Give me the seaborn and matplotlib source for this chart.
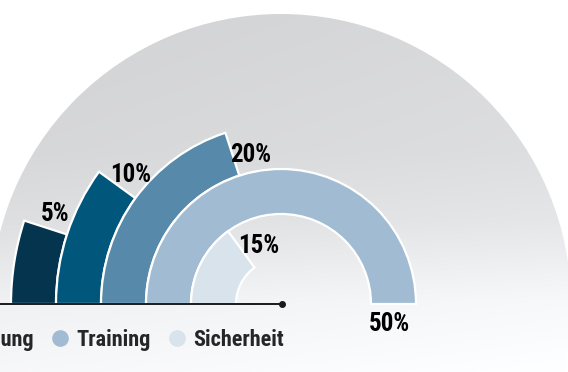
import numpy as np
import matplotlib
matplotlib.use("Agg")
import matplotlib.pyplot as plt
from matplotlib.patches import Circle
from matplotlib.lines import Line2D
import seaborn as sns
from matplotlib import font_manager as fm

# ---- data (outer ring first) ----
categories = ["Ausrüstung", "Verwaltung", "Werbung", "Training", "Sicherheit"]
values = [5, 10, 20, 50, 15]
labels = ["5%", "10%", "20%", "50%", "15%"]
colors = ["#04344e", "#00567b", "#5689aa", "#a1bcd2", "#d8e3ec"]

sns.set_theme(style="white")
names = {f.name for f in fm.fontManager.ttflist}
fam = [f for f in ["Roboto Condensed", "Liberation Sans", "DejaVu Sans"] if f in names]
plt.rcParams["font.family"] = fam

W, H = 568, 372
fig = plt.figure(figsize=(W / 100, H / 100), dpi=100)
fig.patch.set_facecolor("white")

cx, cy = 281, 304

bg = fig.add_axes([0, 0, 1, 1])
bg.set_xlim(0, W)
bg.set_ylim(H, 0)
bg.axis("off")
ys = np.arange(H)
g = np.interp(ys, [12, 150, 220, 260, 300, 372], [214, 219, 227, 236, 245, 252]) / 255.0
xs = np.arange(W)
grad = np.clip(g[:, None] + (xs[None, :] - cx) / W * 0.03, 0, 1)
img = np.clip(np.dstack([grad * 0.995, grad * 0.998, grad + 0.005]), 0, 1)
im = bg.imshow(img, extent=(0, W, H, 0), aspect="auto", zorder=0)
circ = Circle((cx, cy), 290, transform=bg.transData, facecolor="none", edgecolor="none")
bg.add_patch(circ)
im.set_clip_path(circ)

R = 300
ax = fig.add_axes([(cx - R) / W, (H - cy - R) / H, 2 * R / W, 2 * R / H], projection="polar")
ax.set_theta_zero_location("E")
ax.set_rlim(0, R)
ax.patch.set_alpha(0)
ax.axis("off")

ring = 45
hole = 45
n = len(values)
for i, (v, c, lab) in enumerate(zip(values, colors, labels)):
    k = n - 1 - i
    inner = hole + ring * k
    w = v / 100 * 2 * np.pi
    ax.bar(np.pi - w, ring, width=w, bottom=inner, align="edge",
           color=c, edgecolor="white", linewidth=1.6)
    rmid = inner + ring / 2 - 3
    ang = np.pi - w - 18.0 / rmid
    ax.text(ang, rmid, lab, ha="center", va="center_baseline", fontsize=18,
            fontweight="heavy", color="black")

fig.add_artist(Line2D([0, (cx + 1) / W], [1 - cy / H, 1 - cy / H], color="#1a1a1a", lw=1.4))
fig.add_artist(Line2D([(cx + 1) / W], [1 - cy / H], marker="o", color="#1a1a1a", ms=4))

handles = [Line2D([], [], marker="o", linestyle="none", markersize=12,
                  markerfacecolor=c, markeredgecolor="none") for c in colors]
fig.legend(handles, categories, loc="center right", ncol=5, frameon=False,
           bbox_to_anchor=(284 / W, 1 - 340 / H), borderaxespad=0, borderpad=0,
           handlelength=0.9, handletextpad=0.3, columnspacing=0.7,
           prop={"size": 16, "weight": "heavy"})

fig.savefig("out.png", dpi=100, facecolor="white")
